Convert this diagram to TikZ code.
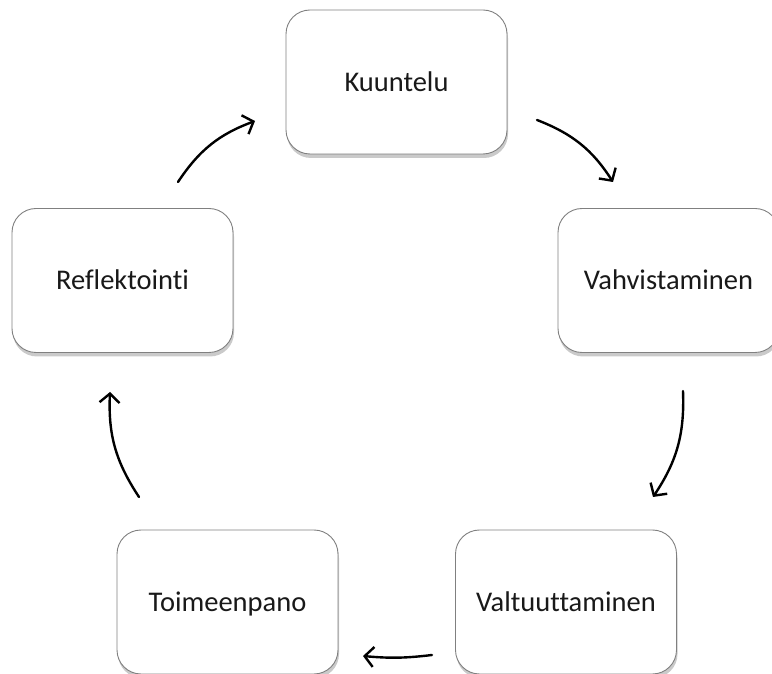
\documentclass[tikz,border=0pt]{standalone}
\usepackage{fontspec}
\setmainfont[Ligatures=NoCommon]{Carlito}
\usetikzlibrary{arrows.meta,shadows}
\begin{document}
\begin{tikzpicture}[x=1pt,y=1pt,
  stagebox/.style={draw=black!50, line width=0.9pt, fill=white, rounded corners=24pt,
    minimum width=221pt, minimum height=144pt, inner sep=0pt,
    text height=18.5pt, text depth=0pt,
    font=\fontsize{28.5}{34}\selectfont, text=black!90,
    drop shadow={shadow xshift=1pt, shadow yshift=-4pt, opacity=0.35, fill=black!60}},
  cyc/.style={line width=2.4pt, line cap=round, -{Straight Barb[length=9pt,width=20pt,line width=2.4pt]}}]
\clip (0,0) rectangle (772,673);
\useasboundingbox (0,0) rectangle (772,673);
\node[stagebox] (k) at (396.5,591) {Kuuntelu};
\node[stagebox] (v) at (668.5,392.5) {Vahvistaminen};
\node[stagebox] (va) at (566,71) {Valtuuttaminen};
\node[stagebox] (t) at (227.5,71) {Toimeenpano};
\node[stagebox] (r) at (122.5,392.5) {Reflektointi};
\coordinate (a1s) at (178,491); \coordinate (a1e) at (255,552);
\coordinate (a2s) at (537,553); \coordinate (a2e) at (613,491);
\coordinate (a3s) at (683,282); \coordinate (a3e) at (653,176);
\coordinate (a4s) at (432,18);  \coordinate (a4e) at (363,17);
\coordinate (a5s) at (139,176); \coordinate (a5e) at (110,281);
\draw[cyc] (a1s) to[bend left=18] (a1e);
\draw[cyc] (a2s) to[bend left=18] (a2e);
\draw[cyc] (a3s) to[bend left=18] (a3e);
\draw[cyc] (a4s) to[bend left=6] (a4e);
\draw[cyc] (a5s) to[bend left=18] (a5e);
\end{tikzpicture}
\end{document}
